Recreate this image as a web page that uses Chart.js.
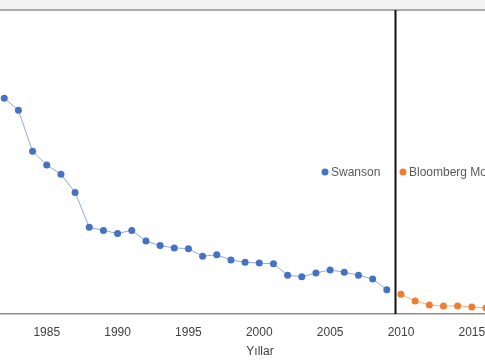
<!DOCTYPE html>
<html>
<head>
<meta charset="utf-8">
<script src="https://cdn.jsdelivr.net/npm/chart.js@4/dist/chart.umd.min.js"></script>
<style>
  html, body { margin: 0; padding: 0; background: #ffffff; overflow: hidden; }
  #wrap { position: relative; width: 485px; height: 360px; }
</style>
</head>
<body>
<div id="wrap"><canvas id="c" width="485" height="360"></canvas></div>
<script>
// Data (y in arbitrary units; y-axis not visible)
const swansonYears = [1982,1983,1984,1985,1986,1987,1988,1989,1990,1991,1992,1993,1994,1995,1996,1997,1998,1999,2000,2001,2002,2003,2004,2005,2006,2007,2008,2009];
const swansonValues = [14.2,13.4,10.7,9.8,9.2,8.0,5.7,5.5,5.3,5.5,4.8,4.5,4.35,4.3,3.8,3.9,3.55,3.4,3.35,3.3,2.55,2.45,2.7,2.9,2.75,2.55,2.3,1.6];
const bloombergYears = [2010,2011,2012,2013,2014,2015,2016];
const bloombergValues = [1.3,0.85,0.6,0.53,0.53,0.46,0.4];
const xTicks = [1985,1990,1995,2000,2005,2010,2015];
const seriesNames = ["Swanson", "Bloomberg Modeli"];
const xTitle = "Yıllar";
const dividerYear = 2009.58;

const toPts = (xs, ys) => xs.map((x, i) => ({ x: x, y: ys[i] }));

const decor = {
  id: 'decor',
  beforeDraw(chart) {
    const ctx = chart.ctx;
    ctx.save();
    ctx.fillStyle = '#ffffff';
    ctx.fillRect(0, 0, chart.width, chart.height);
    ctx.fillStyle = '#f4f4f4';
    ctx.fillRect(0, 0, chart.width, 9);
    ctx.restore();
  },
  afterDatasetsDraw(chart) {
    const ctx = chart.ctx;
    const a = chart.chartArea;
    const xs = chart.scales.x;
    ctx.save();
    // top border
    ctx.strokeStyle = '#8f8f8f';
    ctx.lineWidth = 1.5;
    ctx.beginPath();
    ctx.moveTo(0, a.top);
    ctx.lineTo(chart.width, a.top);
    ctx.stroke();
    // vertical divider
    const vx = Math.round(xs.getPixelForValue(dividerYear)) + 0.5;
    ctx.strokeStyle = '#111111';
    ctx.lineWidth = 2;
    ctx.beginPath();
    ctx.moveTo(vx, a.top);
    ctx.lineTo(vx, a.bottom);
    ctx.stroke();
    // legend inside plot
    const items = [
      { x: 325, color: chart.data.datasets[0].pointBackgroundColor, label: chart.data.datasets[0].label },
      { x: 403, color: chart.data.datasets[1].pointBackgroundColor, label: chart.data.datasets[1].label }
    ];
    ctx.font = '12px "Liberation Sans", Arial, sans-serif';
    ctx.textBaseline = 'middle';
    ctx.textAlign = 'left';
    items.forEach(it => {
      ctx.fillStyle = it.color;
      ctx.beginPath();
      ctx.arc(it.x, 172, 3.5, 0, Math.PI * 2);
      ctx.fill();
      ctx.fillStyle = '#595959';
      ctx.fillText(it.label, it.x + 6, 172.5);
    });
    // axis title
    ctx.font = '12px "Liberation Sans", Arial, sans-serif';
    ctx.textAlign = 'center';
    ctx.fillStyle = '#404040';
    ctx.fillText(xTitle, 260, 352);
    ctx.restore();
  }
};

new Chart(document.getElementById('c'), {
  type: 'line',
  data: {
    datasets: [
      {
        label: seriesNames[0],
        data: toPts(swansonYears, swansonValues),
        borderColor: '#8eaadb',
        borderWidth: 1,
        pointBackgroundColor: '#4472c4',
        pointBorderColor: '#4472c4',
        pointRadius: 3.5,
        pointBorderWidth: 0,
        tension: 0
      },
      {
        label: seriesNames[1],
        data: toPts(bloombergYears, bloombergValues),
        borderColor: '#f4b183',
        borderWidth: 1,
        pointBackgroundColor: '#ed7d31',
        pointBorderColor: '#ed7d31',
        pointRadius: 3.5,
        pointBorderWidth: 0,
        tension: 0
      }
    ]
  },
  options: {
    responsive: false,
    animation: false,
    devicePixelRatio: 1,
    layout: { autoPadding: false, padding: { top: 10, left: 0, right: 0, bottom: 0 } },
    plugins: { legend: { display: false }, tooltip: { enabled: false }, title: { display: false } },
    scales: {
      x: {
        type: 'linear',
        min: 1981.7,
        max: 2015.93,
        afterBuildTicks(scale) { scale.ticks = xTicks.map(v => ({ value: v })); },
        afterFit(scale) {
          scale.height = 46;
          scale.paddingLeft = 0;
          scale.paddingRight = 0;
        },
        grid: { display: false, drawTicks: false },
        border: { display: true, color: '#8f8f8f', width: 1.5 },
        ticks: {
          padding: 11,
          color: '#404040',
          font: { family: '"Liberation Sans", Arial, sans-serif', size: 12 },
          maxRotation: 0,
          autoSkip: false,
          callback: v => String(v)
        }
      },
      y: {
        display: false,
        min: 0,
        max: 20
      }
    }
  },
  plugins: [decor]
});
</script>
</body>
</html>
